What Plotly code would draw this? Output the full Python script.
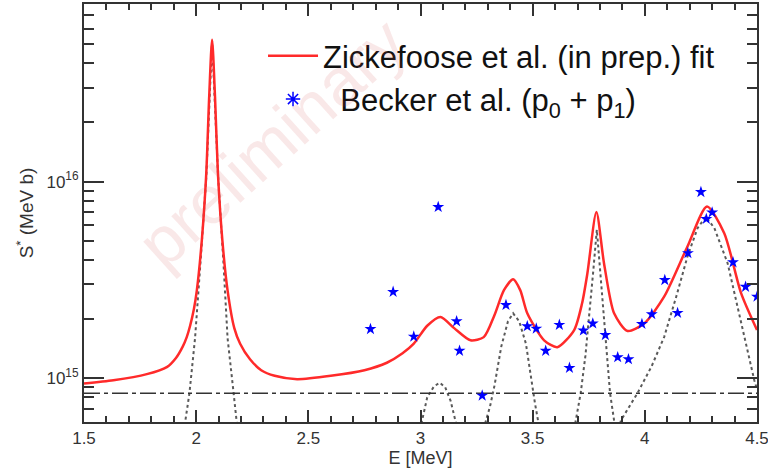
import plotly.graph_objects as go

# Fit curve (red)
fit_E = [1.5, 1.631, 1.78, 1.869, 1.91, 1.94, 1.958, 1.973, 1.99, 2.003, 2.025, 2.045,
         2.058, 2.071, 2.084, 2.097, 2.117, 2.14, 2.17, 2.196, 2.24, 2.29, 2.35, 2.45,
         2.6, 2.75, 2.85, 2.92, 2.97, 3.03, 3.089, 3.15, 3.223, 3.282, 3.33, 3.372,
         3.413, 3.445, 3.476, 3.551, 3.61, 3.685, 3.72, 3.744, 3.784, 3.818, 3.863,
         3.923, 3.997, 4.086, 4.19, 4.277, 4.354, 4.429, 4.5]
fit_S = [9.4e14, 9.77e14, 1.05e15, 1.14e15, 1.27e15, 1.45e15, 1.62e15, 1.85e15, 2.25e15,
         2.8e15, 5.0e15, 1.1e16, 2.7e16, 5.26e16, 2.7e16, 1.1e16, 5.0e15, 2.8e15,
         1.8e15, 1.5e15, 1.25e15, 1.1e15, 1.03e15, 9.9e14, 1.03e15, 1.1e15, 1.2e15,
         1.34e15, 1.5e15, 1.85e15, 2.05e15, 1.8e15, 1.56e15, 1.62e15, 2.1e15, 2.81e15,
         3.19e15, 2.8e15, 2.14e15, 1.56e15, 1.44e15, 1.76e15, 2.4e15, 3.42e15, 7.0e15,
         3.85e15, 2.14e15, 1.74e15, 1.9e15, 2.6e15, 4.68e15, 7.48e15, 5.47e15, 2.71e15,
         1.76e15]

# Becker et al. data points
becker_E = [2.777, 2.878, 2.970, 3.079, 3.161, 3.174, 3.275, 3.381, 3.476, 3.516,
            3.558, 3.619, 3.664, 3.726, 3.768, 3.824, 3.879, 3.927, 3.987, 4.031,
            4.089, 4.146, 4.192, 4.250, 4.274, 4.300, 4.393, 4.449, 4.500]
becker_S = [1.78e15, 2.75e15, 1.63e15, 7.43e15, 1.95e15, 1.38e15, 8.17e14, 2.36e15,
            1.84e15, 1.79e15, 1.38e15, 1.87e15, 1.13e15, 1.75e15, 1.90e15, 1.66e15,
            1.28e15, 1.25e15, 1.89e15, 2.12e15, 3.16e15, 2.15e15, 4.33e15, 8.85e15,
            6.46e15, 6.97e15, 3.89e15, 2.92e15, 2.60e15]

# individual resonance components (dotted)
r1_E = [1.945, 1.951, 1.97, 1.995, 2.02, 2.045, 2.071, 2.098, 2.122, 2.14, 2.167, 2.181, 2.188]
r1_S = [5.0e14, 6.0e14, 8.4e14, 1.6e15, 4.0e15, 1.05e16, 5.2e16, 1.05e16, 3.8e15, 1.6e15,
        8.4e14, 6.0e14, 5.0e14]
r2_E = [2.995, 3.007, 3.03, 3.06, 3.086, 3.11, 3.134, 3.156, 3.165]
r2_S = [5.5e14, 6.1e14, 8.0e14, 9.1e14, 9.5e14, 9.0e14, 7.7e14, 6.1e14, 5.5e14]
r3_E = [3.285, 3.29, 3.31, 3.33, 3.36, 3.39, 3.413, 3.44, 3.47, 3.49, 3.51, 3.525, 3.53]
r3_S = [5.5e14, 6.0e14, 7.2e14, 9.2e14, 1.45e15, 1.95e15, 2.14e15, 1.95e15, 1.5e15,
        1.05e15, 7.5e14, 6.0e14, 5.5e14]
r4_E = [3.685, 3.692, 3.714, 3.735, 3.751, 3.77, 3.786, 3.80, 3.818, 3.83, 3.845, 3.863, 3.87]
r4_S = [5.5e14, 6.1e14, 8.4e14, 1.3e15, 1.98e15, 3.5e15, 5.7e15, 3.6e15, 1.98e15, 1.3e15,
        8.4e14, 6.1e14, 5.5e14]
r5_E = [3.885, 3.893, 3.967, 4.03, 4.086, 4.14, 4.19, 4.235, 4.272, 4.31, 4.369, 4.41,
        4.443, 4.488, 4.5]
r5_S = [5.5e14, 6.1e14, 8.4e14, 1.15e15, 1.62e15, 2.6e15, 4.16e15, 5.8e15, 6.65e15,
        5.8e15, 3.85e15, 2.4e15, 1.62e15, 9.77e14, 8.8e14]

# constant background (dash-dot)
bg_E = [1.5, 4.5]
bg_S = [8.4e14, 8.4e14]

y_major = [1e15, 1e16]
y_major_text = ["10<sup>15</sup>", "10<sup>16</sup>"]
y_minor = [6e14, 7e14, 8e14, 9e14] + [k * 1e15 for k in range(2, 10)] + \
          [k * 1e16 for k in range(2, 9)]

fig = go.Figure()

dot_style = dict(color="#5a5a5a", width=2, dash="dot")
for e, s in [(r1_E, r1_S), (r2_E, r2_S), (r3_E, r3_S), (r4_E, r4_S), (r5_E, r5_S)]:
    fig.add_trace(go.Scatter(x=e, y=s, mode="lines", line=dot_style,
                             showlegend=False, hoverinfo="skip"))

fig.add_trace(go.Scatter(x=bg_E, y=bg_S, mode="lines",
                         line=dict(color="#333333", width=1.5, dash="16px,4px,4px,4px"),
                         showlegend=False))

fig.add_trace(go.Scatter(
    x=fit_E, y=fit_S, mode="lines",
    line=dict(color="#ff2a2a", width=2.5, shape="spline", smoothing=0.7),
    name="Zickefoose et al. (in prep.) fit", legendgroup="a"
))

fig.add_trace(go.Scatter(
    x=becker_E, y=becker_S, mode="markers",
    marker=dict(symbol="star", size=9, color="#0000ff"),
    showlegend=False
))

# legend entry for the data (drawn as an asterisk in the original)
fig.add_trace(go.Scatter(
    x=[None], y=[None], mode="markers",
    marker=dict(symbol="asterisk-open", size=12, color="#0000ff",
                line=dict(width=1.5, color="#0000ff")),
    name="  Becker et al. (p<sub>0</sub> + p<sub>1</sub>)", legendgroup="b"
))

fig.update_layout(
    width=768, height=469,
    margin=dict(l=84, r=11, t=4, b=47),
    paper_bgcolor="white",
    plot_bgcolor="white",
    font=dict(family="Arial, Liberation Sans", color="#333333"),
    legend=dict(
        x=0.266, y=0.94, xanchor="left", yanchor="top",
        font=dict(size=31, color="#111111"),
        bgcolor="rgba(0,0,0,0)",
        itemwidth=50,
        traceorder="grouped", tracegroupgap=0,
    ),
    annotations=[dict(
        text="preliminary", x=0.279, y=0.67, xref="paper", yref="paper",
        xanchor="center", yanchor="middle",
        showarrow=False, textangle=-42,
        font=dict(size=68, color="rgba(205,80,80,0.13)"),
    )],
)

fig.update_xaxes(
    range=[1.5, 4.5],
    tickvals=[1.5, 2, 2.5, 3, 3.5, 4, 4.5],
    ticktext=["1.5", "2", "2.5", "3", "3.5", "4", "4.5"],
    ticks="inside", ticklen=12, tickwidth=1.5, tickcolor="#333333",
    minor=dict(dtick=0.1, ticks="inside", ticklen=6, tickwidth=1.5, tickcolor="#333333"),
    showline=True, linewidth=2, linecolor="#333333", mirror="allticks",
    showgrid=False, zeroline=False,
    automargin=False,
    ticklabeloverflow="allow",
    tickfont=dict(size=17),
    title=dict(text="E [MeV]", font=dict(size=18), standoff=3),
)

fig.update_yaxes(
    type="log",
    range=[14.778, 16.903],
    tickvals=y_major, ticktext=y_major_text,
    ticks="inside", ticklen=20, tickwidth=1.5, tickcolor="#333333",
    minor=dict(tickvals=y_minor, ticks="inside", ticklen=10, tickwidth=1.5, tickcolor="#333333"),
    showline=True, linewidth=2, linecolor="#333333", mirror="allticks",
    showgrid=False, zeroline=False,
    automargin=False,
    tickfont=dict(size=17),
    title=dict(text="S<sup>*</sup> (MeV b)", font=dict(size=19), standoff=8),
)

# page body has a default 8px margin; drop it so the figure sits at the origin
fig.write_html("out.html", config={"displayModeBar": False},
               post_script="document.body.style.margin='0';")
